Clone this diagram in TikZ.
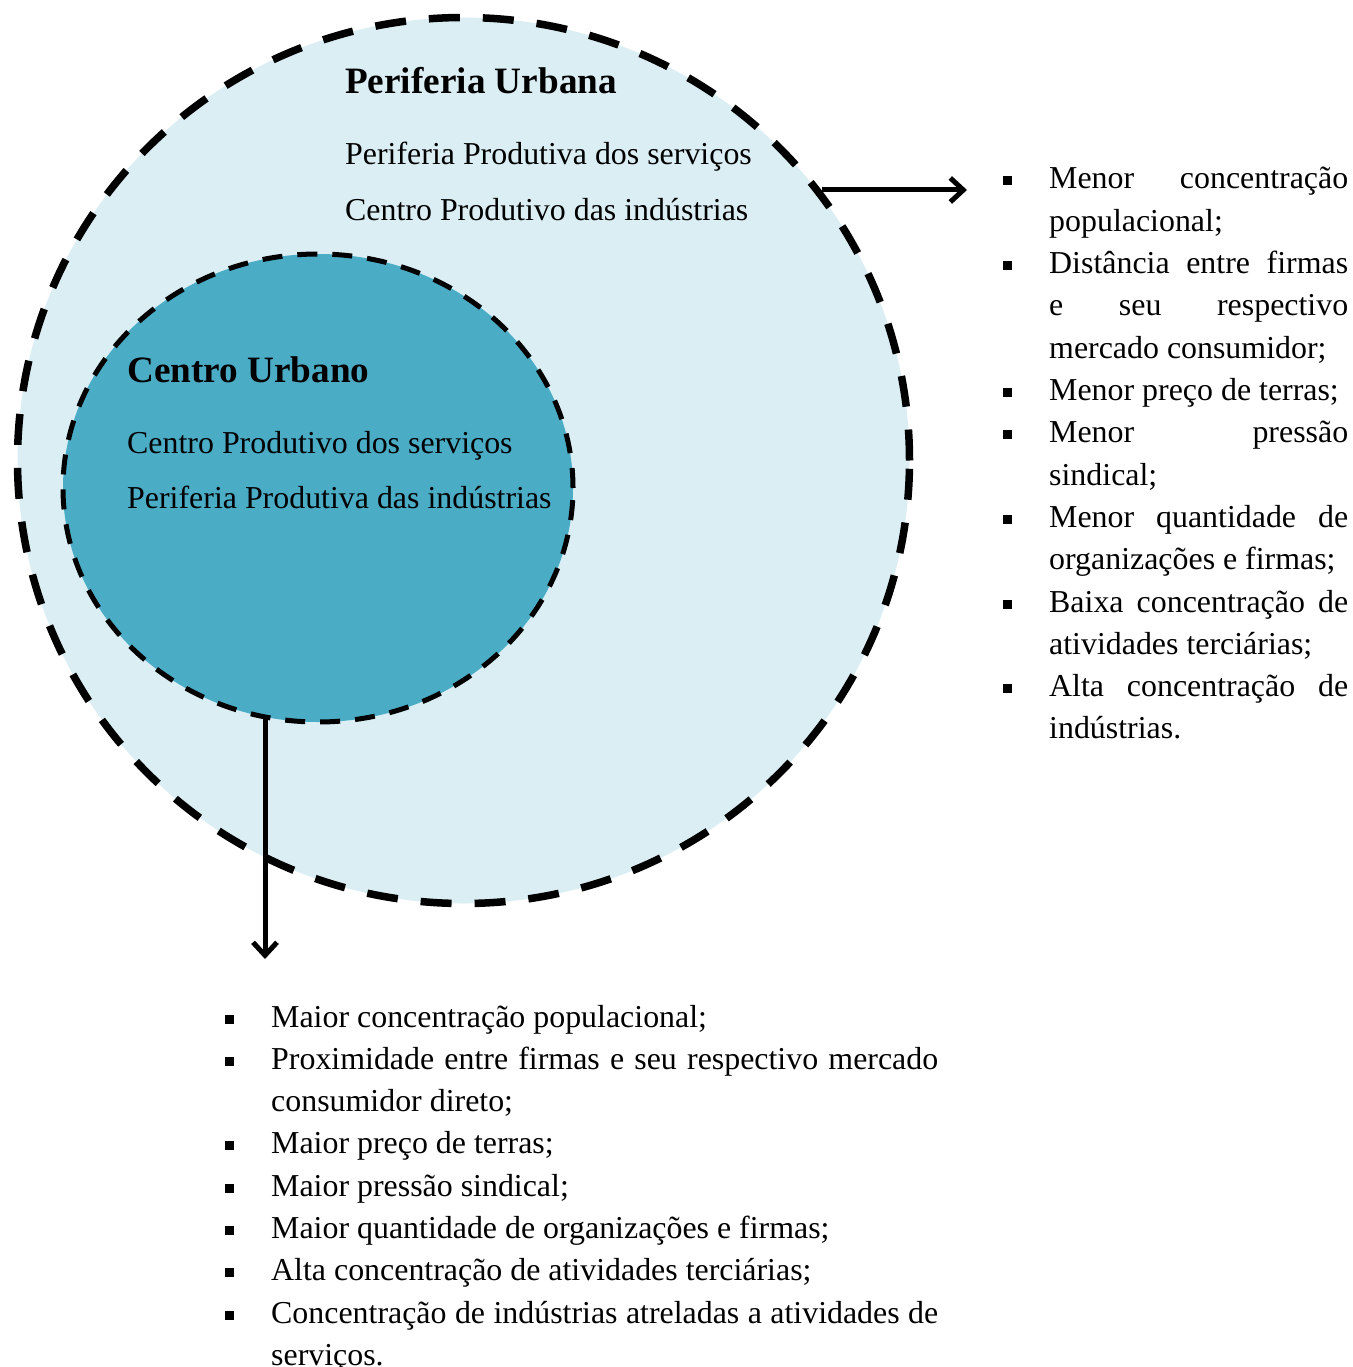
\documentclass[tikz,border=0pt]{standalone}
\usepackage{fontspec}
\setmainfont{Liberation Serif}
\usetikzlibrary{shapes.geometric,arrows.meta}
\definecolor{outerfill}{HTML}{DBEEF4}
\definecolor{innerfill}{HTML}{4BACC6}
\newcommand{\bodysize}{\fontsize{31.9pt}{42.3pt}\selectfont}
\newcommand{\titlesize}{\fontsize{37.2pt}{44pt}\selectfont\bfseries}
\newcommand{\sqbullet}{\raisebox{3.5pt}{\rule{9pt}{9pt}}}
\newcommand{\listsetup}{\spaceskip=0pt\xspaceskip=0pt\leftskip=0pt\rightskip=0pt\parfillskip=0pt plus 1fil\tolerance=10000\hbadness=10000\hyphenpenalty=10000\parindent=0pt}
\newcommand{\blitem}[1]{\noindent\hangindent=46pt\hangafter=1\makebox[46pt][l]{\sqbullet}#1\par}
\tikzset{
  zone/.style={ellipse, inner sep=0pt, outer sep=0pt},
  outerzone/.style={zone, draw=black, fill=outerfill, line width=7.5pt, dash pattern=on 31pt off 23pt},
  innerzone/.style={zone, draw=black, fill=innerfill, line width=5pt, dash pattern=on 20pt off 15pt},
  titletext/.style={anchor=base west, inner sep=0pt, font=\titlesize},
  bodytext/.style={anchor=base west, inner sep=0pt, font=\bodysize},
  listbox/.style={anchor=base west, inner sep=0pt, font=\bodysize, align=justify},
  connector/.style={line width=5pt, -{Straight Barb[length=13pt,width=24pt,line width=5pt]}},
}
\begin{document}
\begin{tikzpicture}[x=1pt,y=-1pt]
\useasboundingbox (0,0) rectangle (1352,1367);
% zones
\node[outerzone, minimum width=892pt, minimum height=886pt] (outer) at (463.5,460.5) {};
\node[innerzone, minimum width=510pt, minimum height=468pt] (inner) at (318,488) {};
% texts in outer zone
\node[titletext] (ptitle) at (345,94) {Periferia Urbana};
\node[bodytext] (pserv) at (345,165) {Periferia Produtiva dos serviços};
\node[bodytext] (pind) at (345,220) {Centro Produtivo das indústrias};
% texts in inner zone
\node[titletext] (ctitle) at (127,382) {Centro Urbano};
\node[bodytext] (cserv) at (127,453) {Centro Produtivo dos serviços};
\node[bodytext] (cind) at (127,508) {Periferia Produtiva das indústrias};
% connectors
\coordinate (pfrom) at (822,190);
\coordinate (pto) at (967,190);
\coordinate (cfrom) at (265,718);
\coordinate (cto) at (265,959);
\draw[connector] (pfrom) -- (pto);
\draw[connector] (cfrom) -- (cto);
% right list
\node[listbox, text width=345pt] (rlist) at (1003,189) {\listsetup\blitem{Menor concentração\linebreak populacional;}
\blitem{Distância entre firmas\linebreak e seu respectivo\linebreak mercado consumidor;}
\blitem{Menor preço de terras;}
\blitem{Menor pressão\linebreak sindical;}
\blitem{Menor quantidade de\linebreak organizações e firmas;}
\blitem{Baixa concentração de\linebreak atividades terciárias;}
\blitem{Alta concentração de\linebreak indústrias.}};
% bottom list
\node[listbox, text width=713pt] (blist) at (225,1027) {\listsetup\blitem{Maior concentração populacional;}
\blitem{Proximidade entre firmas e seu respectivo mercado\linebreak consumidor direto;}
\blitem{Maior preço de terras;}
\blitem{Maior pressão sindical;}
\blitem{Maior quantidade de organizações e firmas;}
\blitem{Alta concentração de atividades terciárias;}
\blitem{Concentração de indústrias atreladas a atividades de\linebreak serviços.}};
\end{tikzpicture}
\end{document}
